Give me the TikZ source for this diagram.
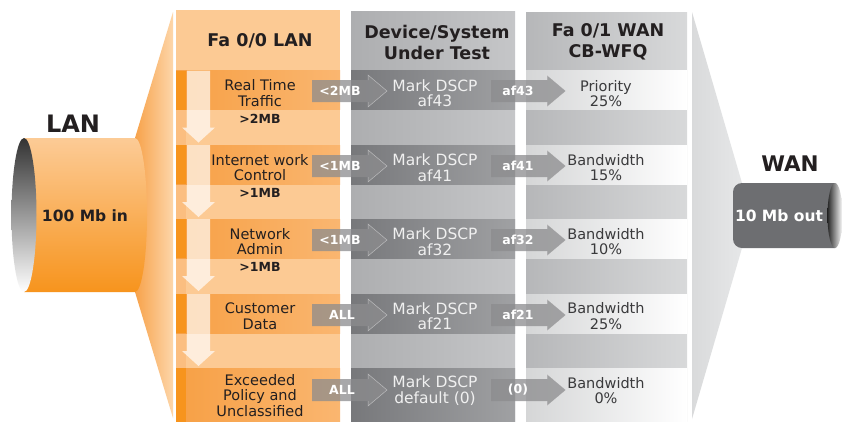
\documentclass[tikz,border=0pt]{standalone}
\usepackage{fontspec}
\setmainfont{DejaVu Sans}
\definecolor{txtdark}{HTML}{231F20}
\definecolor{orBase}{HTML}{FCCA94}
\definecolor{orStripLight}{HTML}{FBBE80}
\definecolor{orStrip}{HTML}{F7941D}
\definecolor{orBandL}{HTML}{F7A045}
\definecolor{orBandR}{HTML}{FAB670}
\definecolor{funL}{HTML}{F7A24A}
\definecolor{funR}{HTML}{FDD6AA}
\definecolor{pipeTop}{HTML}{FCCB96}
\definecolor{pipeBot}{HTML}{F7941D}
\definecolor{dutBaseL}{HTML}{ADAEB0}
\definecolor{dutBaseR}{HTML}{C5C6C8}
\definecolor{dutBandL}{HTML}{77787B}
\definecolor{dutBandR}{HTML}{A0A1A3}
\definecolor{wanBaseL}{HTML}{B6B7B9}
\definecolor{wanBaseR}{HTML}{D8D9DA}
\definecolor{wanBandL}{HTML}{D5D6D7}
\definecolor{wanBandR}{HTML}{FFFFFF}
\definecolor{wfunL}{HTML}{D9DADB}
\definecolor{wfunR}{HTML}{E6E7E8}
\definecolor{pipeGray}{HTML}{6D6E71}
\definecolor{arrGray}{HTML}{8C8C8E}
\definecolor{dutText}{HTML}{F0F0F0}
\definecolor{wanText}{HTML}{3A3A3C}
\newcommand\blkarr[2]{%
  \fill[blkarrow] (#1,#2-11) -- (#1+56,#2-11) -- (#1+56,#2-16) -- (#1+75,#2) -- (#1+56,#2+16) -- (#1+56,#2+11) -- (#1,#2+11) -- cycle;
  \draw[headline] (#1+56,#2-11) -- (#1+56,#2-16) -- (#1+75,#2) -- (#1+56,#2+16) -- (#1+56,#2+11);
}
\newcommand\downarr[1]{%
  \fill[downarrow] (187,#1) -- (210,#1) -- (210,#1+57) -- (215,#1+57) -- (198.5,#1+72) -- (182,#1+57) -- (187,#1+57) -- cycle;
}
\newcommand\orband[2]{%
  \shade[left color=orBandL, right color=orBandR] (176,#1) rectangle (340,#2);
  \fill[orStrip] (176,#1) rectangle (186,#2);
  \shade[left color=dutBandL, right color=dutBandR] (351,#1) rectangle (515,#2);
  \shade[left color=wanBandL, right color=wanBandR] (526,#1) rectangle (687,#2);
}
\begin{document}
\begin{tikzpicture}[x=1pt,y=-1pt,
  hdr/.style={font=\bfseries\fontsize{17.5}{21}\selectfont, text=txtdark, align=center, inner sep=0pt},
  rowlbl/.style={font=\fontsize{14.5}{15.5}\selectfont, text=txtdark, align=center, inner sep=0pt},
  sublbl/.style={font=\bfseries\fontsize{12.5}{14}\selectfont, text=txtdark, inner sep=0pt},
  dutlbl/.style={font=\fontsize{15.5}{15.5}\selectfont, text=dutText, align=center, inner sep=0pt},
  wanlbl/.style={font=\fontsize{14.5}{15.5}\selectfont, text=wanText, align=center, inner sep=0pt},
  arrlbl/.style={font=\bfseries\fontsize{12.5}{14}\selectfont, text=white, inner sep=0pt},
  biglbl/.style={font=\bfseries\fontsize{24}{26}\selectfont, text=txtdark, inner sep=0pt},
  pipelbl/.style={font=\bfseries\fontsize{15.5}{17}\selectfont, inner sep=0pt},
  blkarrow/.style={fill=arrGray, fill opacity=0.75},
  headline/.style={draw=white, draw opacity=0.45, line width=0.5pt},
  downarrow/.style={fill=white, fill opacity=0.68}
]
\useasboundingbox (0,0) rectangle (842,421);
\fill[white] (0,0) rectangle (842,421);
\begin{scope}
\clip (0,0) rectangle (842,421);
% LAN funnel
\shade[left color=funL, right color=funR] (135,138) -- (173,12) -- (173,418) -- (135,292) -- cycle;
% LAN pipe body
\shade[top color=pipeTop, bottom color=pipeBot] (24,138) -- (135,138) .. controls (141.6,138) and (147,172.5) .. (147,215) .. controls (147,257.5) and (141.6,292) .. (135,292) -- (24,292) -- cycle;
\shade[top color=black!80, bottom color=white] (24,215) ellipse [x radius=12.5pt, y radius=77pt];
% columns base
\fill[orBase] (176,10) rectangle (340,421);
\fill[orStripLight] (176,70.5) rectangle (186,421);
\shade[left color=dutBaseL, right color=dutBaseR] (351,11) rectangle (515,421);
\shade[left color=wanBaseL, right color=wanBaseR] (526,12) rectangle (687,421);
% row bands
\orband{70.5}{109.5}
\orband{145}{184}
\orband{219}{258}
\orband{294}{333}
\orband{368}{425}
% down arrows
\downarr{70.5}
\downarr{145}
\downarr{219}
\downarr{294}
% WAN funnel and pipe
\shade[left color=wfunL, right color=wfunR] (692,12) -- (742,183) -- (742,248) -- (692,419) -- cycle;
\fill[pipeGray] (835,183) -- (742,183) .. controls (737,183) and (733,187) .. (733,192) -- (733,239) .. controls (733,244) and (737,248) .. (742,248) -- (835,248) -- cycle;
\shade[left color=black!85, right color=white] (835,215.5) ellipse [x radius=7.5pt, y radius=32.5pt];
% block arrows
\blkarr{312}{91}
\blkarr{491}{91}
\blkarr{312}{166}
\blkarr{491}{166}
\blkarr{312}{240}
\blkarr{491}{240}
\blkarr{312}{315}
\blkarr{491}{315}
\blkarr{312}{390}
\blkarr{491}{390}
\end{scope}
% big labels
\node[biglbl] (lan) at (73,124) {LAN};
\node[pipelbl, text=txtdark] (lanin) at (85,216) {100 Mb in};
\node[biglbl, font=\bfseries\fontsize{21.5}{24}\selectfont] (wan) at (790,164) {WAN};
\node[pipelbl, text=white] (wanout) at (779,216) {10 Mb out};
% headers
\node[hdr] (h1) at (260,41) {Fa 0/0 LAN};
\node[hdr] (h2) at (437,42.5) {Device/System\\Under Test};
\node[hdr] (h3) at (608,42) {Fa 0/1 WAN\\CB-WFQ};
% row 1
\node[rowlbl] (r1) at (260,93) {Real Time\\Traffic};
\node[sublbl] (s1) at (260,118.5) {>2MB};
\node[arrlbl] (a1) at (340,91) {<2MB};
\node[dutlbl] (d1) at (435,93) {Mark DSCP\\af43};
\node[arrlbl] (b1) at (518,91) {af43};
\node[wanlbl] (w1) at (606,93.5) {Priority\\25\%};
% row 2
\node[rowlbl] (r2) at (260,167.5) {Internet work\\Control};
\node[sublbl] (s2) at (260,192.5) {>1MB};
\node[arrlbl] (a2) at (340,166) {<1MB};
\node[dutlbl] (d2) at (435,167.5) {Mark DSCP\\af41};
\node[arrlbl] (b2) at (518,166) {af41};
\node[wanlbl] (w2) at (606,167.5) {Bandwidth\\15\%};
% row 3
\node[rowlbl] (r3) at (260,241.5) {Network\\Admin};
\node[sublbl] (s3) at (260,266.5) {>1MB};
\node[arrlbl] (a3) at (340,240) {<1MB};
\node[dutlbl] (d3) at (435,241.5) {Mark DSCP\\af32};
\node[arrlbl] (b3) at (518,240) {af32};
\node[wanlbl] (w3) at (606,241.5) {Bandwidth\\10\%};
% row 4
\node[rowlbl] (r4) at (260,316) {Customer\\Data};
\node[arrlbl] (a4) at (342,315) {ALL};
\node[dutlbl] (d4) at (435,316) {Mark DSCP\\af21};
\node[arrlbl] (b4) at (518,315) {af21};
\node[wanlbl] (w4) at (606,316) {Bandwidth\\25\%};
% row 5
\node[rowlbl] (r5) at (260,395.5) {Exceeded\\Policy and\\Unclassified};
\node[arrlbl] (a5) at (342,390) {ALL};
\node[dutlbl] (d5) at (435,390.5) {Mark DSCP\\default (0)};
\node[arrlbl] (b5) at (518,390) {(0)};
\node[wanlbl] (w5) at (606,390.5) {Bandwidth\\0\%};
\end{tikzpicture}
\end{document}
